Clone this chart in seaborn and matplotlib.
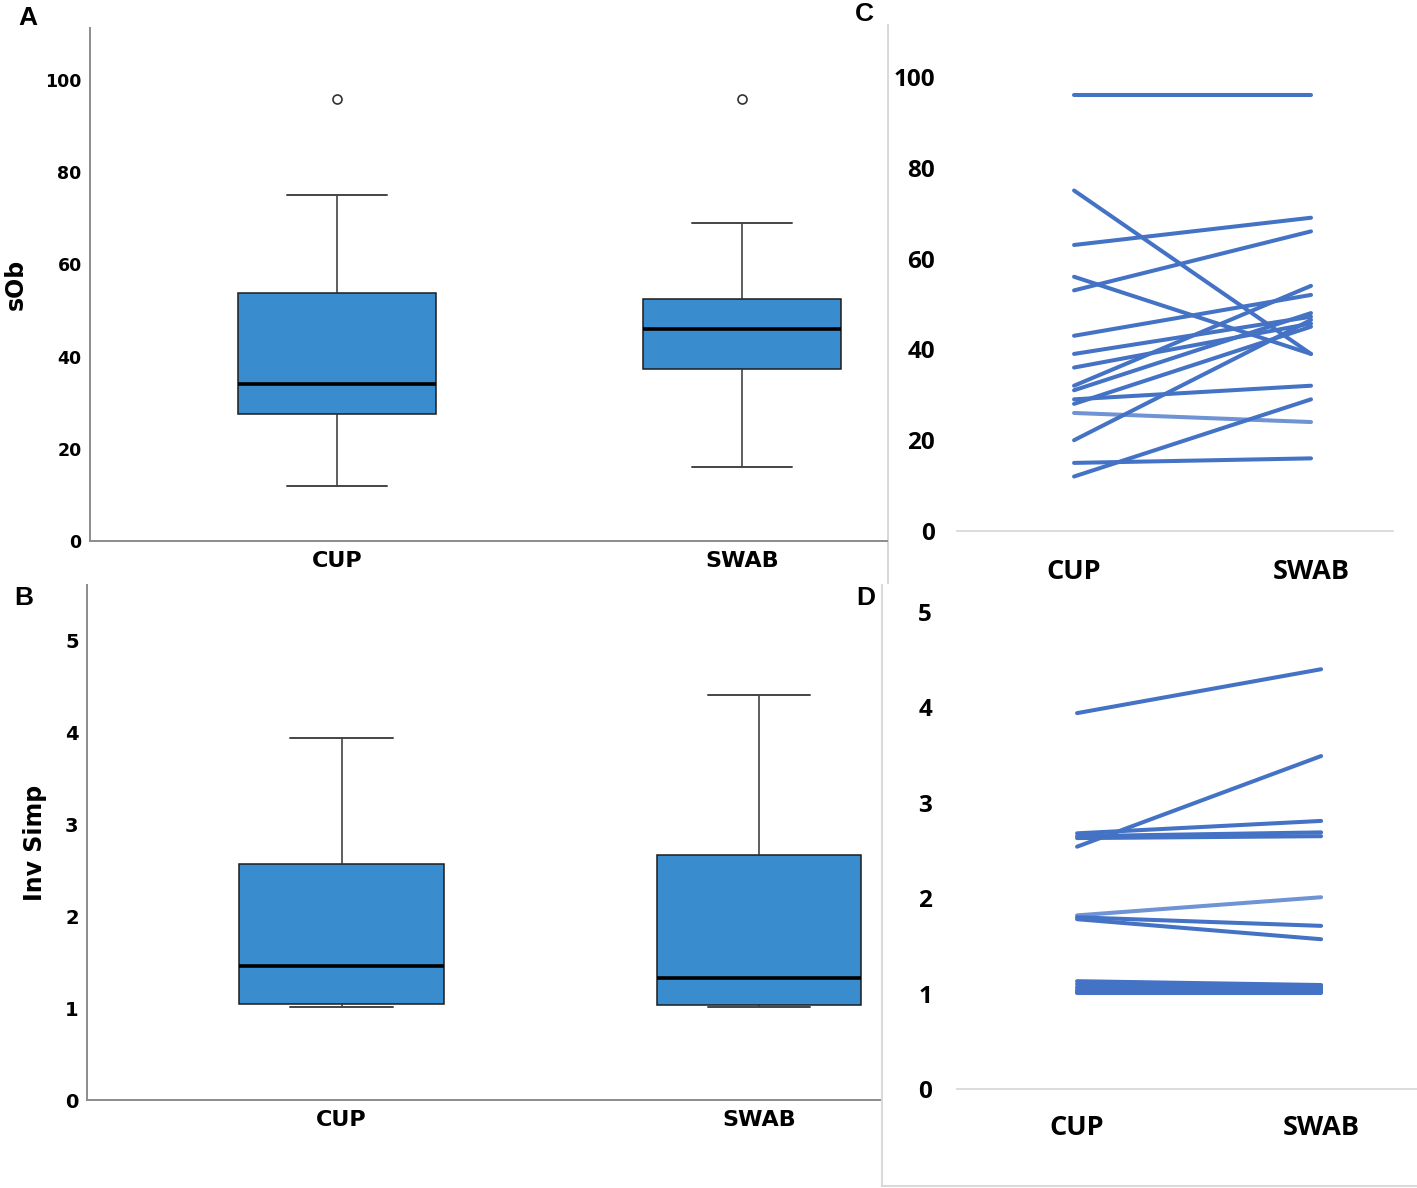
import numpy as np
import pandas as pd
import matplotlib
matplotlib.use("Agg")
import matplotlib.pyplot as plt
import seaborn as sns

# ---------------- data ----------------
groups = ["CUP", "SWAB"]
subjects = [f"S{i+1}" for i in range(16)]

sobs_cup  = [96, 75, 63, 56, 53, 43, 39, 36, 32, 31, 29, 28, 26, 20, 15, 12]
sobs_swab = [96, 39, 69, 39, 66, 52, 47.2, 45.7, 54, 48, 32, 45, 24, 46.5, 16, 29]
sobs_tone = ["dark"] * 12 + ["light"] + ["dark"] * 3

inv_cup  = [3.94, 2.54, 2.68, 2.65, 2.63, 1.82, 1.80, 1.78,
            1.13, 1.10, 1.07, 1.05, 1.03, 1.02, 1.02, 1.01]
inv_swab = [4.40, 3.49, 2.81, 2.69, 2.65, 2.01, 1.71, 1.57,
            1.09, 1.08, 1.06, 1.04, 1.03, 1.02, 1.02, 1.01]
inv_tone = ["dark"] * 5 + ["light"] + ["dark"] * 10

sobs_ticks = [0, 20, 40, 60, 80, 100]
inv_ticks = [0, 1, 2, 3, 4, 5]


def long_df(a, b, tone):
    return pd.DataFrame({
        "subject": subjects + subjects,
        "method": [groups[0]] * len(a) + [groups[1]] * len(b),
        "value": list(a) + list(b),
        "tone": list(tone) + list(tone),
    })


df_sobs = long_df(sobs_cup, sobs_swab, sobs_tone)
df_inv = long_df(inv_cup, inv_swab, inv_tone)

# ---------------- style ----------------
sns.set_style("white")
plt.rcParams["font.family"] = ["DejaVu Sans"]
plt.rcParams["text.color"] = "black"
plt.rcParams["xtick.color"] = "black"
plt.rcParams["ytick.color"] = "black"
plt.rcParams["axes.labelcolor"] = "black"

W, H = 1417, 1188
fig = plt.figure(figsize=(W / 100, H / 100), dpi=100)


def rect(l, t, r, b):
    return [l / W, 1 - b / H, (r - l) / W, (b - t) / H]


BOX_FILL = "#398DCF"
BOX_EDGE = "#1c1c1c"
AX_GRAY = "#8c8c8c"
LINE_DARK = "#4472C4"
LINE_LIGHT = "#6F93D4"
BORDER = "#D9D9D9"
EXCEL_FONT = ["Open Sans", "DejaVu Sans"]


def spss_box(ax, df, ticks, xlim, ylim, ylabel, ylab_x, tickfont, tickfs):
    sns.boxplot(data=df, x="method", y="value", order=groups, ax=ax,
                width=0.49, color=BOX_FILL, saturation=1, linecolor=BOX_EDGE,
                linewidth=1.1,
                medianprops=dict(color="black", linewidth=2.6),
                whiskerprops=dict(color="#333333", linewidth=1.1),
                capprops=dict(color="#444444", linewidth=1.4),
                flierprops=dict(marker="o", markersize=6.5, markerfacecolor="white",
                                markeredgecolor="#333333", markeredgewidth=1.2))
    ax.set_xlim(*xlim)
    ax.set_ylim(*ylim)
    ax.set_yticks(ticks)
    ax.set_yticklabels([str(t) for t in ticks], family=tickfont,
                       fontsize=tickfs, fontweight="bold")
    ax.set_xticks([0, 1])
    ax.set_xticklabels(groups, fontsize=16, fontweight="bold")
    ax.tick_params(axis="both", length=0)
    ax.tick_params(axis="y", pad=6)
    ax.tick_params(axis="x", pad=7)
    for s in ["top", "right"]:
        ax.spines[s].set_visible(False)
    for s in ["left", "bottom"]:
        ax.spines[s].set_color(AX_GRAY)
        ax.spines[s].set_linewidth(1.4)
    ax.set_xlabel("")
    ax.set_ylabel(ylabel, fontsize=17, fontweight="bold")
    ax.yaxis.set_label_coords(ylab_x, 0.5)
    ax.set_facecolor("white")


def excel_lines(ax, df, ticks, xlim, ylim, tickpad, catpad):
    sns.lineplot(data=df, x="method", y="value", units="subject", estimator=None,
                 hue="tone", palette={"dark": LINE_DARK, "light": LINE_LIGHT},
                 hue_order=["light", "dark"],
                 linewidth=2.9, legend=False, ax=ax, solid_capstyle="round",
                 sort=False)
    ax.set_xlim(*xlim)
    ax.set_ylim(*ylim)
    ax.set_yticks(ticks)
    ax.set_yticklabels([str(t) for t in ticks], family=EXCEL_FONT,
                       fontsize=17.5, fontweight="bold")
    ax.set_xticks([0, 1])
    ax.set_xticklabels(groups, family=EXCEL_FONT, fontsize=19.5,
                       fontweight="bold")
    ax.tick_params(axis="both", length=0)
    ax.tick_params(axis="y", pad=tickpad)
    ax.tick_params(axis="x", pad=catpad)
    for s in ["top", "right", "left"]:
        ax.spines[s].set_visible(False)
    ax.spines["bottom"].set_color(BORDER)
    ax.spines["bottom"].set_linewidth(1.3)
    ax.set_xlabel("")
    ax.set_ylabel("")
    ax.set_facecolor("none")


def border(ax, sides):
    ax.set_xticks([])
    ax.set_yticks([])
    for s in ["top", "right", "left", "bottom"]:
        ax.spines[s].set_visible(s in sides)
        ax.spines[s].set_color(BORDER)
        ax.spines[s].set_linewidth(1.5)
    ax.set_facecolor("white")


# chart-area borders (Excel panels)
axCb = fig.add_axes(rect(888, 25, 1417, 583))
border(axCb, ["left"])
axDb = fig.add_axes(rect(882, 585, 1417, 1186))
border(axDb, ["left", "bottom"])

# Panel A
axA = fig.add_axes(rect(90, 28, 887, 541))
spss_box(axA, df_sobs, sobs_ticks, (-0.61, 1.358), (0, 111.3), "sOb", -0.078,
         ["DejaVu Sans"], 12.5)

# Panel B
axB = fig.add_axes(rect(87, 585, 880, 1100))
spss_box(axB, df_inv, inv_ticks, (-0.61, 1.29), (0, 5.6), "Inv Simp", -0.050,
         ["Liberation Sans Narrow", "DejaVu Sans"], 14)

# Panel C
axC = fig.add_axes(rect(957, 77, 1393, 531))
excel_lines(axC, df_sobs, sobs_ticks, (-0.494, 1.346), (0, 100), 16, 20)

# Panel D
axD = fig.add_axes(rect(957, 612, 1417, 1089))
excel_lines(axD, df_inv, inv_ticks, (-0.492, 1.393), (0, 5), 18, 19)

# panel letters
for letter, (x, y) in {"A": (28, 18), "B": (24, 598), "C": (864, 14), "D": (866, 598)}.items():
    fig.text(x / W, 1 - y / H, letter, ha="center", va="center",
             family=["Liberation Sans", "DejaVu Sans"], fontsize=19, fontweight="bold")

fig.savefig("out.png", dpi=100, facecolor="white")
